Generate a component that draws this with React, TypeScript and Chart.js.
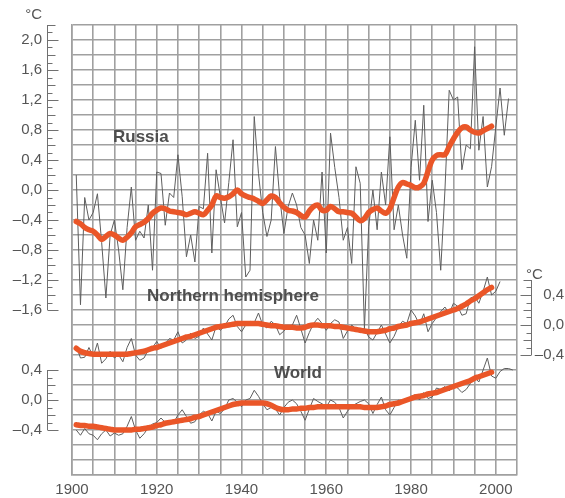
import React, { useEffect, useRef } from "react";
import { Chart, registerables } from "chart.js";

Chart.register(...registerables);

const START_YEAR = 1901;

// Russia, annual anomalies 1901-2003 (°C)
const russiaAnnual = [
  0.2, -1.53, -0.1, -0.4, -0.3, -0.05, -0.7, -1.44, -0.6, -0.4,
  -0.8, -1.33, -0.5, 0.04, -0.67, -0.55, -0.64, -0.2, -1.07, 0.24,
  0.22, -0.47, -0.04, -0.1, 0.47, -0.09, -0.89, -0.6, -0.96, -0.22,
  -0.25, 0.49, -0.84, 0.27, -0.09, -0.44, 0.1, 0.67, -0.49, -0.3,
  -1.16, -1.07, 0.98, 0.22, -0.3, -0.62, -0.4, 0.58, -0.09, -0.58,
  -0.22, -0.04, -0.2, -0.5, -0.6, -0.98, -0.4, -0.67, 0.24, -0.84,
  0.76, 0.3, -0.1, -0.67, -0.5, -0.98, 0.31, 0.09, -1.85, -0.49,
  0.0, -0.53, 0.24, -0.2, 0.71, -0.53, -0.2, -0.6, -0.91, 0.3,
  0.93, 0.13, 1.13, -0.42, 0.13, -0.3, -1.07, 0.0, 1.33, 1.2,
  1.24, 0.27, 0.6, 0.55, 1.91, 0.53, 0.98, 0.04, 0.31, 0.84,
  1.36, 0.73, 1.22,
];

// Russia, smoothed 1901-1999
const russiaSmooth = [
  -0.42, -0.45, -0.5, -0.53, -0.55, -0.6, -0.66, -0.62, -0.58, -0.6,
  -0.64, -0.67, -0.63, -0.57, -0.49, -0.46, -0.43, -0.38, -0.31, -0.27,
  -0.24, -0.25, -0.28, -0.29, -0.3, -0.31, -0.33, -0.31, -0.29, -0.31,
  -0.33, -0.27, -0.2, -0.08, -0.1, -0.11, -0.09, -0.05, 0.0, -0.05,
  -0.08, -0.1, -0.12, -0.15, -0.18, -0.13, -0.08, -0.1, -0.17, -0.23,
  -0.27, -0.28, -0.3, -0.34, -0.36, -0.28, -0.22, -0.2, -0.27, -0.27,
  -0.22, -0.25, -0.29, -0.29, -0.3, -0.31, -0.36, -0.41, -0.38, -0.3,
  -0.26, -0.24, -0.28, -0.31, -0.25, -0.1, 0.04, 0.1, 0.08, 0.06,
  0.03, 0.04, 0.09, 0.25, 0.4, 0.46, 0.47, 0.47, 0.58, 0.68,
  0.77, 0.83, 0.84, 0.8, 0.77, 0.76, 0.79, 0.82, 0.85,
];

// Northern hemisphere, annual 1901-2001
const nhAnnual = [
  -0.28, -0.44, -0.43, -0.3, -0.42, -0.24, -0.51, -0.45, -0.35, -0.44,
  -0.4, -0.49, -0.3, -0.18, -0.4, -0.47, -0.44, -0.33, -0.3, -0.22,
  -0.31, -0.25, -0.18, -0.2, -0.09, -0.24, -0.2, -0.11, -0.18, -0.15,
  -0.04, -0.12, -0.2, -0.02, -0.07, -0.02, 0.08, 0.13, -0.02, -0.09,
  0.0, 0.05, 0.03, 0.16, 0.0, -0.04, 0.05, 0.0, -0.13, -0.08,
  -0.02, 0.0, 0.13, -0.05, -0.24, -0.1, 0.02, 0.09, 0.02, -0.07,
  0.02, 0.07, 0.04, -0.18, -0.08, 0.0, -0.05, -0.1, -0.04, -0.16,
  -0.2, -0.1, 0.0, -0.12, -0.24, -0.15, -0.02, 0.05, 0.02, 0.2,
  0.12, 0.0, 0.15, -0.09, 0.02, 0.1, 0.18, 0.24, 0.15, 0.29,
  0.25, 0.13, 0.15, 0.36, 0.38, 0.29, 0.45, 0.64, 0.4, 0.45,
  0.58,
];

// Northern hemisphere, smoothed 1901-1999
const nhSmooth = [
  -0.31, -0.35, -0.37, -0.38, -0.39, -0.39, -0.39, -0.39, -0.39, -0.39,
  -0.39, -0.39, -0.39, -0.38, -0.37, -0.36, -0.35, -0.33, -0.31, -0.3,
  -0.28, -0.26, -0.24, -0.22, -0.2, -0.18, -0.16, -0.15, -0.13, -0.11,
  -0.09, -0.07, -0.05, -0.03, -0.02, -0.01, 0.0, 0.01, 0.02, 0.02,
  0.02, 0.02, 0.02, 0.02, 0.01, 0.0, -0.01, -0.01, -0.02, -0.03,
  -0.03, -0.03, -0.04, -0.04, -0.03, -0.01, 0.0, 0.0, -0.01, -0.01,
  -0.01, -0.02, -0.02, -0.03, -0.04, -0.05, -0.06, -0.07, -0.08, -0.09,
  -0.09, -0.09, -0.08, -0.07, -0.05, -0.04, -0.02, -0.01, 0.0, 0.02,
  0.03, 0.04, 0.06, 0.08, 0.1, 0.12, 0.14, 0.16, 0.18, 0.2,
  0.22, 0.25, 0.28, 0.32, 0.35, 0.39, 0.43, 0.47, 0.5,
];

// World, annual 1901-2004
const worldAnnual = [
  -0.4, -0.47, -0.38, -0.45, -0.47, -0.53, -0.45, -0.4, -0.48, -0.44,
  -0.47, -0.45, -0.35, -0.22, -0.4, -0.51, -0.45, -0.37, -0.32, -0.3,
  -0.24, -0.3, -0.28, -0.3, -0.2, -0.13, -0.22, -0.31, -0.29, -0.2,
  -0.15, -0.18, -0.28, -0.15, -0.18, -0.12, 0.0, 0.02, -0.03, -0.09,
  0.0, 0.02, 0.13, 0.05, -0.05, -0.13, -0.1, -0.12, -0.2, -0.1,
  -0.03, 0.0, -0.05, -0.15, -0.27, -0.12, 0.02, -0.02, -0.05, -0.09,
  0.0, -0.03, -0.1, -0.24, -0.15, -0.08, -0.05, -0.02, 0.0, -0.05,
  -0.18, -0.06, 0.04, -0.13, -0.2, -0.1, 0.0, -0.02, 0.0, 0.05,
  0.07, 0.0, 0.1, 0.02, 0.04, 0.16, 0.14, 0.18, 0.12, 0.2,
  0.16, 0.1, 0.14, 0.22, 0.3, 0.24, 0.4, 0.56, 0.32, 0.29,
  0.38, 0.42, 0.42, 0.4,
];

// World, smoothed 1901-1999
const worldSmooth = [
  -0.33, -0.34, -0.34, -0.35, -0.35, -0.36, -0.37, -0.38, -0.39, -0.4,
  -0.4, -0.4, -0.4, -0.4, -0.39, -0.39, -0.38, -0.37, -0.36, -0.34,
  -0.33, -0.31, -0.3, -0.29, -0.28, -0.27, -0.26, -0.25, -0.23, -0.22,
  -0.2, -0.18, -0.16, -0.14, -0.12, -0.1, -0.08, -0.06, -0.05, -0.04,
  -0.04, -0.04, -0.04, -0.04, -0.04, -0.05, -0.07, -0.1, -0.12, -0.13,
  -0.13, -0.12, -0.12, -0.11, -0.11, -0.1, -0.1, -0.09, -0.09, -0.09,
  -0.09, -0.09, -0.09, -0.09, -0.09, -0.09, -0.09, -0.09, -0.1, -0.1,
  -0.1, -0.1, -0.09, -0.08, -0.06, -0.05, -0.04, -0.02, 0.0, 0.02,
  0.04, 0.05, 0.06, 0.08, 0.09, 0.1, 0.12, 0.14, 0.16, 0.18,
  0.2, 0.22, 0.24, 0.26, 0.29, 0.31, 0.33, 0.35, 0.37,
];

const yearLabels = [1900, 1920, 1940, 1960, 1980, 2000];
const russiaTickLabels = [2.0, 1.6, 1.2, 0.8, 0.4, 0.0, -0.4, -0.8, -1.2, -1.6];
const nhTickLabels = [0.4, 0.0, -0.4];
const worldTickLabels = [0.4, 0.0, -0.4];
const panelLabels = ["Russia", "Northern hemisphere", "World"];
const unitLabel = "°C";

const ORANGE = "#ea5628";
const THIN = "#5e5e5e";
const GRID = "#a0a0a0";
const TEXT = "#555555";
const FONT = "'Liberation Sans', Arial, Helvetica, sans-serif";

const fmt = (v: number) =>
  (v < 0 ? "\u2013" : "") + Math.abs(v).toFixed(1).replace(".", ",");

const toPoints = (vals: number[]) =>
  vals.map((v, i) => ({ x: START_YEAR + i, y: v }));

function drawRuler(
  ctx: CanvasRenderingContext2D,
  scale: any,
  axisX: number,
  top: number,
  bottom: number,
  dir: number
) {
  const steps = Math.round((top - bottom) * 10);
  ctx.strokeStyle = "#707070";
  ctx.lineWidth = 1;
  ctx.beginPath();
  ctx.moveTo(axisX + 0.5, scale.getPixelForValue(top));
  ctx.lineTo(axisX + 0.5, scale.getPixelForValue(bottom));
  ctx.stroke();
  for (let k = 0; k <= steps; k++) {
    const v = top - k * 0.1;
    const tenth = Math.round(v * 10);
    const len = tenth % 4 === 0 ? 11 : tenth % 2 === 0 ? 8 : 5;
    const py = Math.round(scale.getPixelForValue(v)) + 0.5;
    ctx.beginPath();
    ctx.moveTo(axisX + 0.5, py);
    ctx.lineTo(axisX + 0.5 + dir * len, py);
    ctx.stroke();
  }
}

const decorPlugin = {
  id: "decor",
  afterDraw(chart: any) {
    const ctx: CanvasRenderingContext2D = chart.ctx;
    const y = chart.scales.y;
    const yNH = chart.scales.yNH;
    const yW = chart.scales.yW;
    ctx.save();

    drawRuler(ctx, y, 47, 2.2, -1.6, 1);
    drawRuler(ctx, yW, 47, 0.4, -0.4, 1);
    drawRuler(ctx, yNH, 531, 0.6, -0.4, -1);

    ctx.fillStyle = TEXT;
    ctx.font = `15px ${FONT}`;
    ctx.textBaseline = "middle";
    ctx.textAlign = "right";
    russiaTickLabels.forEach((v) => ctx.fillText(fmt(v), 42, y.getPixelForValue(v)));
    worldTickLabels.forEach((v) => ctx.fillText(fmt(v), 42, yW.getPixelForValue(v)));
    nhTickLabels.forEach((v) => ctx.fillText(fmt(v), 564, yNH.getPixelForValue(v)));

    ctx.fillText(unitLabel, 42, 15);
    ctx.textAlign = "left";
    ctx.fillText(unitLabel, 526, 275);

    ctx.font = `bold 17px ${FONT}`;
    ctx.fillStyle = "#4e4e4e";
    ctx.textBaseline = "alphabetic";
    ctx.fillText(panelLabels[0], 113, 142);
    ctx.fillText(panelLabels[1], 147, 301);
    ctx.fillText(panelLabels[2], 274, 378);

    ctx.restore();
  },
};

export default function App() {
  const canvasRef = useRef<HTMLCanvasElement | null>(null);

  useEffect(() => {
    const canvas = canvasRef.current;
    if (!canvas) return;

    const smoothStyle = {
      borderColor: ORANGE,
      borderWidth: 5.5,
      tension: 0.35,
      pointRadius: 0,
      borderCapStyle: "round" as const,
      borderJoinStyle: "round" as const,
      fill: false,
      order: 0,
    };
    const thinStyle = {
      borderColor: THIN,
      borderWidth: 1,
      tension: 0,
      pointRadius: 0,
      fill: false,
      order: 1,
    };

    const chart = new Chart(canvas, {
      type: "line",
      data: {
        datasets: [
          { label: "Russia (smoothed)", data: toPoints(russiaSmooth), yAxisID: "y", ...smoothStyle },
          { label: "Northern hemisphere (smoothed)", data: toPoints(nhSmooth), yAxisID: "yNH", ...smoothStyle },
          { label: "World (smoothed)", data: toPoints(worldSmooth), yAxisID: "yW", ...smoothStyle },
          { label: "Russia", data: toPoints(russiaAnnual), yAxisID: "y", ...thinStyle },
          { label: "Northern hemisphere", data: toPoints(nhAnnual), yAxisID: "yNH", ...thinStyle },
          { label: "World", data: toPoints(worldAnnual), yAxisID: "yW", ...thinStyle },
        ] as any,
      },
      options: {
        responsive: false,
        animation: false,
        devicePixelRatio: 1,
        layout: { padding: { left: 72, right: 48, top: 25, bottom: 0 } },
        plugins: { legend: { display: false }, tooltip: { enabled: false } },
        scales: {
          x: {
            type: "linear",
            min: 1900,
            max: 2005,
            afterFit: (s: any) => {
              s.height = 23;
            },
            ticks: {
              stepSize: 5,
              autoSkip: false,
              maxRotation: 0,
              padding: 6,
              color: TEXT,
              font: { size: 15, family: FONT },
              callback: (v: any) => (yearLabels.includes(Number(v)) ? String(v) : ""),
            },
            grid: { color: GRID, lineWidth: 1.6, drawTicks: false },
            border: { display: true, color: GRID, width: 1.6 },
          },
          y: {
            type: "linear",
            position: "left",
            min: -3.8,
            max: 2.2,
            afterFit: (s: any) => {
              s.width = 0;
            },
            ticks: { stepSize: 0.2, display: false },
            grid: { color: GRID, lineWidth: 1.6, drawTicks: false },
            border: { display: true, color: GRID, width: 1.6 },
          },
          yNH: {
            type: "linear",
            position: "right",
            display: false,
            min: -2.0,
            max: 4.0,
          },
          yW: {
            type: "linear",
            position: "left",
            display: false,
            min: -1.0,
            max: 5.0,
          },
        },
      } as any,
      plugins: [decorPlugin],
    });

    return () => chart.destroy();
  }, []);

  return (
    <div style={{ position: "absolute", left: 0, top: 0, width: 565, height: 498, background: "#fff" }}>
      <canvas ref={canvasRef} width={565} height={498} />
    </div>
  );
}
